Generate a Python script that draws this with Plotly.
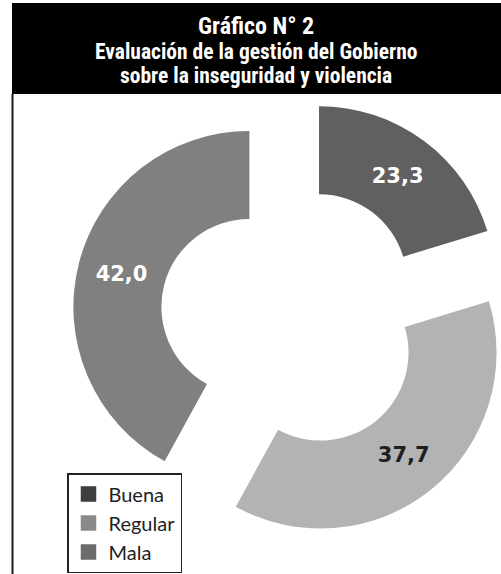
import math
import plotly.graph_objects as go

# ---- data ----
categories = ["Buena", "Regular", "Mala"]
slice_values = [20.3, 37.7, 42.0]          # slice sizes as drawn (angles of the wedges)
value_labels = ["23,3", "37,7", "42,0"]     # numbers printed on the wedges
slice_colors = ["#606060", "#b3b3b3", "#808080"]
legend_colors = ["#3e3e3e", "#8a8a8a", "#6c6c6c"]
label_colors = ["#ffffff", "#1e1e1e", "#ffffff"]

title_lines = ["Gráfico N° 2",
               "Evaluación de la gestión del Gobierno",
               "sobre la inseguridad y violencia"]

# ---- layout geometry (pixels) ----
W, H = 501, 574
CX, CY = 292.5, 318.0   # centre of the (un-exploded) donut
R = 176.0               # outer radius
PULL = 44.5             # explode distance of each wedge

def fx(px):
    return px / W

def fy(py):
    return 1 - py / H

fig = go.Figure()

# legend-only trace (tiny, hidden under the black header)
fig.add_trace(go.Pie(
    labels=categories, values=slice_values, sort=False, direction="clockwise",
    marker=dict(colors=legend_colors, line=dict(color=legend_colors, width=3.5)),
    textinfo="none", hoverinfo="skip", showlegend=True,
    domain=dict(x=[0.5, 0.503], y=[0.96, 0.963]),
))

total = sum(slice_values)
cum = 0.0
for i, v in enumerate(slice_values):
    mid = (cum + v / 2) / total * 2 * math.pi
    cum += v
    pxc = CX + PULL * math.sin(mid)
    pyc = CY - PULL * math.cos(mid)
    colors = [slice_colors[j] if j == i else "rgba(0,0,0,0)" for j in range(len(categories))]
    texts = [value_labels[j] if j == i else "" for j in range(len(categories))]
    fig.add_trace(go.Pie(
        labels=categories, values=slice_values, sort=False, direction="clockwise",
        rotation=0, hole=0.5,
        marker=dict(colors=colors, line=dict(width=0)),
        text=texts, textinfo="text", textposition="inside",
        insidetextorientation="horizontal",
        textfont=dict(family="DejaVu Sans", size=21, color=label_colors, weight="bold"),
        hoverinfo="skip", showlegend=False,
        domain=dict(x=[fx(pxc - R), fx(pxc + R)], y=[fy(pyc + R), fy(pyc - R)]),
    ))

shapes = [
    dict(type="rect", xref="paper", yref="paper", x0=fx(12), x1=1, y0=fy(94), y1=fy(3),
         fillcolor="#000000", line=dict(width=0), layer="above"),
    dict(type="line", xref="paper", yref="paper", x0=fx(12.5), x1=fx(12.5), y0=0, y1=fy(94),
         line=dict(color="#1a1a1a", width=2), layer="above"),
]

title_font = "Liberation Sans Narrow, Roboto Condensed, DejaVu Sans Condensed, Arial Narrow, sans-serif"
annotations = []
for txt, ypix, size in zip(title_lines, [25.5, 51.2, 75.2], [24, 21.5, 21.5]):
    annotations.append(dict(
        text="<b>" + txt + "</b>", x=fx(256), y=fy(ypix), xref="paper", yref="paper",
        xanchor="center", yanchor="middle", showarrow=False, borderpad=0,
        font=dict(family=title_font, size=size, color="#ffffff"),
    ))

fig.update_layout(
    width=W, height=H, margin=dict(l=0, r=0, t=0, b=0, pad=0),
    paper_bgcolor="#ffffff", plot_bgcolor="#ffffff",
    shapes=shapes, annotations=annotations,
    showlegend=True,
    legend=dict(
        x=fx(67), y=fy(473), xanchor="left", yanchor="top",
        bgcolor="#ffffff", bordercolor="#222222", borderwidth=1.5,
        font=dict(family="Lato, Noto Sans, sans-serif", size=20, color="#222222"),
        traceorder="normal", itemclick=False, itemdoubleclick=False,
    ),
)

fig.write_html("out.html")
